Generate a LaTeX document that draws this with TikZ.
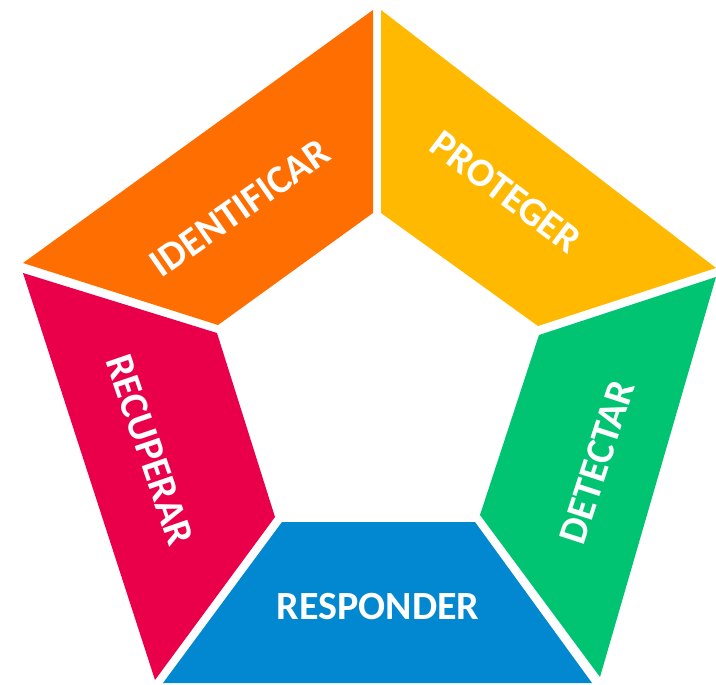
\documentclass[tikz,border=0pt]{standalone}
\usepackage{fontspec}
\setmainfont{Carlito}
\definecolor{cOrange}{RGB}{255,110,0}
\definecolor{cYellow}{RGB}{255,185,0}
\definecolor{cGreen}{RGB}{0,196,114}
\definecolor{cBlue}{RGB}{2,136,209}
\definecolor{cRed}{RGB}{234,0,74}
\tikzset{
  lbl/.style={text=white,font=\fontsize{40}{46}\selectfont\bfseries,inner sep=0pt}
}
\begin{document}
\begin{tikzpicture}[x=1pt,y=-1pt]
\useasboundingbox (0,0) rectangle (716,685);
\fill[cOrange] (23,263) -- (373,10) -- (373,213) -- (218,325) -- cycle;
\fill[cYellow] (381,10) -- (716,268) -- (538,326) -- (381,213) -- cycle;
\fill[cGreen] (716,277) -- (600,677) -- (480,515) -- (539,335) -- cycle;
\fill[cBlue] (282,522) -- (475,522) -- (592,683) -- (163,683) -- cycle;
\fill[cRed] (23,273) -- (217,333) -- (275,517) -- (155,680) -- cycle;
\node[lbl,rotate=35] (identificar) at (240,208) {IDENTIFICAR};
\node[lbl,rotate=-37] (proteger) at (506,192) {PROTEGER};
\node[lbl,rotate=72] (detectar) at (597,462) {DETECTAR};
\node[lbl,rotate=-71] (recuperar) at (150,450) {RECUPERAR};
\node[lbl] (responder) at (378,607) {RESPONDER};
\end{tikzpicture}
\end{document}
